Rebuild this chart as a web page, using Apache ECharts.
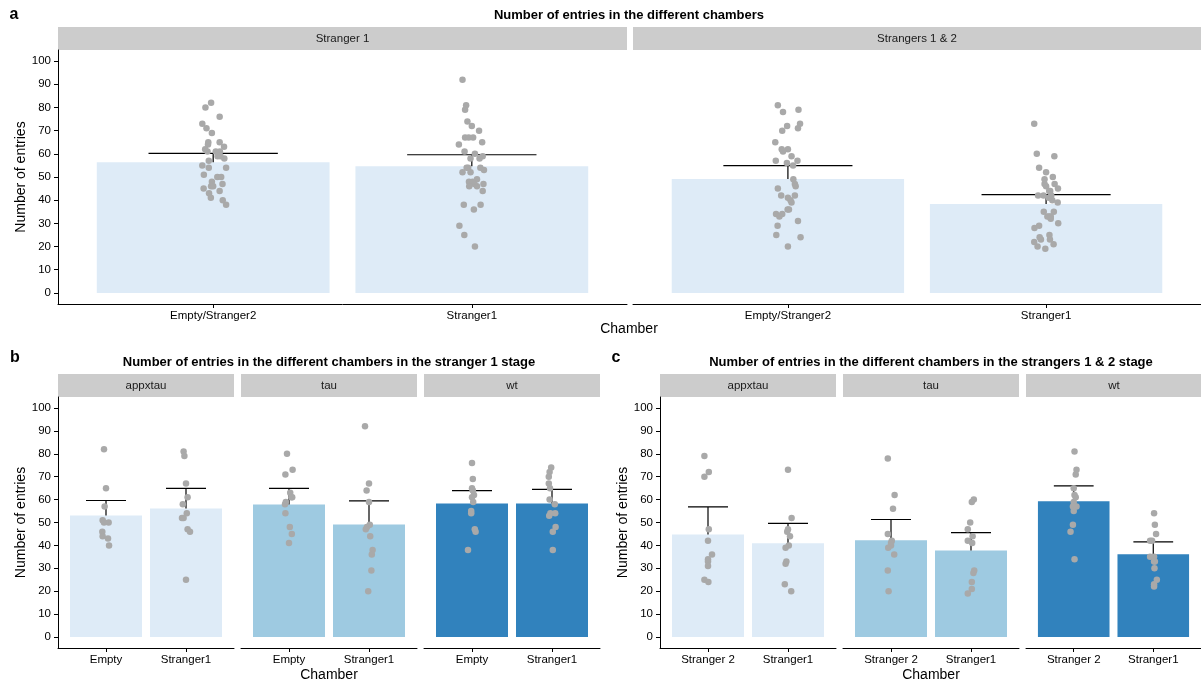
<!DOCTYPE html>
<html><head><meta charset="utf-8">
<script src="https://cdn.jsdelivr.net/npm/echarts@6/dist/echarts.min.js"></script>
<style>html,body{margin:0;padding:0;background:#fff}#c{width:1201px;height:686px}</style>
</head><body><div id="c"></div>
<script>
// ---------- labels ----------
const yTicks = [0, 10, 20, 30, 40, 50, 60, 70, 80, 90, 100];
const stagesA = ['Stranger 1', 'Strangers 1 & 2'];
const chambersA = ['Empty/Stranger2', 'Stranger1'];
const genotypes = ['appxtau', 'tau', 'wt'];
const chambersB = ['Empty', 'Stranger1'];
const chambersC = ['Stranger 2', 'Stranger1'];
const titleA = 'Number of entries in the different chambers';
const titleB = 'Number of entries in the different chambers in the stranger 1 stage';
const titleC = 'Number of entries in the different chambers in the strangers 1 & 2 stage';

// ---------- bar heights (means) and upper error bar ends ----------
const aMean  = [[56.4, 54.6], [49.1, 38.4]];
const aUpper = [[60.2, 59.6], [54.9, 42.4]];
const bMean  = [[53.1, 56.1], [57.9, 49.1], [58.3, 58.3]];
const bUpper = [[59.6, 64.9], [64.9, 59.4], [63.9, 64.5]];
const cMean  = [[44.8, 40.9], [42.2, 37.8], [59.3, 36.1]];
const cUpper = [[56.8, 49.6], [51.3, 45.6], [66.0, 41.5]];

// ---------- individual animals (stranger 1 stage) ----------
const b_appxtau_empty = [82, 65, 57, 51, 50, 50, 46, 44, 43, 40];
const b_appxtau_s1    = [81, 79, 67, 61, 58, 54, 52, 52, 47, 46, 25];
const b_tau_empty     = [80, 73, 71, 63, 61, 61, 59, 58, 54, 48, 45, 41];
const b_tau_s1        = [92, 67, 64, 59, 49, 48, 47, 44, 38, 36, 29, 20];
const b_wt_empty      = [76, 69, 65, 64, 62, 61, 59, 55, 54, 47, 46, 38];
const b_wt_s1         = [74, 72, 70, 67, 65, 60, 58, 54, 54, 53, 48, 46, 38];
// ---------- individual animals (strangers 1 & 2 stage) ----------
const c_appxtau_s2 = [79, 72, 70, 47, 42, 36, 34, 33, 31, 25, 24];
const c_appxtau_s1 = [73, 52, 47, 46, 44, 40, 39, 33, 32, 23, 20];
const c_tau_s2     = [78, 62, 56, 45, 42, 41, 40, 39, 36, 29, 20];
const c_tau_s1     = [60, 59, 50, 47, 44, 42, 41, 29, 28, 24, 21, 19];
const c_wt_s2      = [81, 73, 71, 65, 62, 61, 59, 57, 57, 55, 49, 46, 34];
const c_wt_s1      = [54, 49, 45, 42, 42, 35, 35, 33, 33, 30, 25, 23, 22];

// ---------- horizontal jitter (category units) ----------
const b_appxtau_empty_jit = [-0.025, 0, -0.017, -0.042, -0.025, 0.033, -0.046, -0.042, 0.025, 0.038];
const b_appxtau_s1_jit    = [-0.03, -0.02, 0, 0.02, -0.04, 0.01, -0.05, -0.03, 0.02, 0.05, 0];
const b_tau_empty_jit     = [-0.025, 0.045, -0.045, 0.015, 0.03, 0.04, -0.04, -0.05, -0.045, 0.01, 0.035, 0];
const b_tau_s1_jit        = [-0.05, 0, -0.03, 0, 0.01, -0.025, -0.04, 0.015, 0.045, 0.035, 0.03, -0.01];
const b_wt_empty_jit      = [0, 0.01, 0, 0.01, 0.025, 0, 0.015, -0.01, -0.01, 0.035, 0.045, -0.05];
const b_wt_s1_jit         = [-0.01, -0.03, -0.04, -0.04, -0.025, -0.03, 0.035, -0.02, 0.04, -0.035, 0.045, 0.01, 0.01];
const c_appxtau_s2_jit = [-0.045, 0.01, -0.045, 0.01, 0, 0.05, 0, 0, 0, -0.045, 0.005];
const c_appxtau_s1_jit = [0, 0.045, 0, -0.01, 0.025, 0.01, -0.03, -0.02, -0.03, -0.04, 0.04];
const c_tau_s2_jit     = [-0.04, 0.045, 0.025, -0.04, 0.01, 0, 0, -0.035, 0.04, -0.04, -0.03];
const c_tau_s1_jit     = [0.035, 0.01, -0.01, -0.04, 0.02, -0.04, 0.015, 0.04, 0.03, 0.01, 0.01, -0.04];
const c_wt_s2_jit      = [0.01, 0.035, 0.025, 0, 0.01, 0.025, 0, 0.035, -0.01, 0, -0.01, -0.04, 0.01];
const c_wt_s1_jit      = [0.01, 0.02, 0.035, -0.04, -0.015, -0.04, 0.01, 0.02, 0.01, 0.015, 0.045, 0.01, 0.01];
// panel a jitter (same animal order: appxtau, tau, wt)
const a_s1_empty_jit = [-0.008, -0.019, -0.017, -0.036, 0.016, 0.031, -0.008, 0.025, -0.016, 0.037,
  -0.03, -0.042, -0.026, 0.042, -0.022, 0.026, 0.017, 0.043, -0.017, -0.005, -0.037, -0.009,
  0.025, -0.005, 0.025, -0.02, -0.031, 0.01, 0.028, -0.042, 0.05, 0.036, 0.0, 0.05];
const a_s1_s1_jit = [-0.022, -0.026, -0.026, -0.028, -0.005, -0.014, -0.036, -0.005, 0.045, 0.02, -0.029,
  -0.036, -0.012, -0.05, 0.042, 0.02, -0.011, 0.01, 0.042, -0.031, 0.008, -0.048, 0.012,
  -0.017, 0, 0.028, 0.005, 0.04, 0.012, 0.03, 0.033, -0.02, 0.047, 0.003, -0.01, 0.034];
const a_s12_s2_jit = [0.041, -0.003, -0.022, 0.027, -0.026, 0.004, -0.046, -0.033, 0.039, -0.045, 0.049,
  -0.019, -0.024, -0.004, -0.039, 0.027, 0, 0.01, 0.014, -0.001, -0.04, 0,
  -0.039, 0.047, 0.039, -0.049, 0, -0.019, 0.014, -0.047, 0.037, 0.02, 0.021, 0.03, -0.022];
const a_s12_s1_jit = [-0.046, 0, 0.033, 0, 0.012, 0.024, 0.045, 0.012, 0.018, -0.02, -0.033,
  -0.036, 0.032, 0.026, -0.006, 0.016, -0.031, 0.01, -0.027, -0.045, -0.025, 0.029, -0.003,
  -0.027, -0.006, 0.046, -0.01, 0.02, -0.009, 0.03, 0.018, 0.005, 0.047, 0.013, 0.015, -0.046];

// ---------- styling ----------
const FONT = '"Liberation Sans", Arial, Helvetica, sans-serif';
const genoColors = ['#DEEBF7', '#9ECAE1', '#3182BD'];
const colorA = '#DEEBF7';
const pointColor = '#A9A9A9';
const stripFill = '#CCCCCC';
const Y_MIN = -4.8, Y_MAX = 104.8;

const grids = [], xAxes = [], yAxes = [], series = [], graphics = [];

function pts(vals, jit, xc) { return vals.map((v, i) => [xc + jit[i], v]); }

function addFacet(o) {
  const i = grids.length;
  grids.push({ left: o.left, top: o.top, width: o.width, height: o.height });
  xAxes.push({
    type: 'value', gridIndex: i, min: 0.4, max: 2.6,
    axisLine: { show: true, onZero: false, lineStyle: { color: '#000', width: 1 } },
    axisTick: { show: true, customValues: [1, 2], length: 4, lineStyle: { color: '#000', width: 1 } },
    axisLabel: { customValues: [1, 2], formatter: v => o.cats[Math.round(v) - 1],
      color: '#000', fontSize: 11.5, fontFamily: FONT, margin: 6 },
    splitLine: { show: false }
  });
  yAxes.push({
    type: 'value', gridIndex: i, min: Y_MIN, max: Y_MAX,
    axisLine: { show: o.first, onZero: false, lineStyle: { color: '#000', width: 1 } },
    axisTick: { show: o.first, customValues: yTicks, length: 4, lineStyle: { color: '#000', width: 1 } },
    axisLabel: { show: o.first, customValues: yTicks, color: '#000', fontSize: 11.5, fontFamily: FONT, margin: 7 },
    splitLine: { show: false },
    name: o.first ? 'Number of entries' : '', nameLocation: 'middle', nameGap: 30, nameRotate: 90,
    nameTextStyle: { fontSize: 14, color: '#000', fontFamily: FONT }
  });
  // bars
  series.push({
    type: 'custom', xAxisIndex: i, yAxisIndex: i, z: 1, silent: true,
    data: [[1, o.mean[0]], [2, o.mean[1]]],
    encode: { x: 0, y: 1 },
    renderItem: (p, api) => {
      const x = api.value(0), y = api.value(1);
      const a = api.coord([x - 0.45, y]), b = api.coord([x + 0.45, 0]);
      return { type: 'rect', shape: { x: a[0], y: a[1], width: b[0] - a[0], height: b[1] - a[1] },
        style: { fill: o.color } };
    }
  });
  // upper error bars
  series.push({
    type: 'custom', xAxisIndex: i, yAxisIndex: i, z: 2, silent: true,
    data: [[1, o.mean[0], o.upper[0]], [2, o.mean[1], o.upper[1]]],
    encode: { x: 0, y: [1, 2] },
    renderItem: (p, api) => {
      const x = api.value(0), m = api.value(1), u = api.value(2);
      const pm = api.coord([x, m]), pu = api.coord([x, u]);
      const pl = api.coord([x - 0.25, u]), pr = api.coord([x + 0.25, u]);
      return { type: 'group', children: [
        { type: 'line', shape: { x1: pm[0], y1: pm[1], x2: pu[0], y2: pu[1] }, style: { stroke: '#000', lineWidth: 1.2 } },
        { type: 'line', shape: { x1: pl[0], y1: pl[1], x2: pr[0], y2: pr[1] }, style: { stroke: '#000', lineWidth: 1.2 } }
      ] };
    }
  });
  // points
  series.push({
    type: 'scatter', xAxisIndex: i, yAxisIndex: i, z: 3, silent: true,
    symbol: 'circle', symbolSize: 6.5, itemStyle: { color: pointColor, opacity: 1 },
    data: pts(o.v1, o.j1, 1).concat(pts(o.v2, o.j2, 2))
  });
  // strip
  graphics.push({ type: 'rect', shape: { x: o.left, y: o.stripTop, width: o.width, height: 23 },
    style: { fill: stripFill }, silent: true });
  graphics.push({ type: 'text', x: o.left + o.width / 2, y: o.stripTop + 11.5, silent: true,
    style: { text: o.strip, fill: '#1A1A1A', fontSize: 11.5, fontFamily: FONT, align: 'center', verticalAlign: 'middle' } });
}

function txt(s, x, y, size, bold) {
  graphics.push({ type: 'text', x: x, y: y, silent: true,
    style: { text: s, fill: '#000', fontSize: size, fontWeight: bold ? 'bold' : 'normal', fontFamily: FONT,
      align: 'center', verticalAlign: 'middle' } });
}

// ----- panel a -----
addFacet({ left: 58, top: 50, width: 569, height: 254, stripTop: 27, first: true, strip: stagesA[0], cats: chambersA,
  color: colorA, mean: aMean[0], upper: aUpper[0],
  v1: b_appxtau_empty.concat(b_tau_empty, b_wt_empty), j1: a_s1_empty_jit,
  v2: b_appxtau_s1.concat(b_tau_s1, b_wt_s1), j2: a_s1_s1_jit });
addFacet({ left: 633, top: 50, width: 568, height: 254, stripTop: 27, first: false, strip: stagesA[1], cats: chambersA,
  color: colorA, mean: aMean[1], upper: aUpper[1],
  v1: c_appxtau_s2.concat(c_tau_s2, c_wt_s2), j1: a_s12_s2_jit,
  v2: c_appxtau_s1.concat(c_tau_s1, c_wt_s1), j2: a_s12_s1_jit });

// ----- panel b -----
const bV = [[b_appxtau_empty, b_appxtau_s1], [b_tau_empty, b_tau_s1], [b_wt_empty, b_wt_s1]];
const bJ = [[b_appxtau_empty_jit, b_appxtau_s1_jit], [b_tau_empty_jit, b_tau_s1_jit], [b_wt_empty_jit, b_wt_s1_jit]];
const bLeft = [58, 241, 424];
for (let g = 0; g < 3; g++) {
  addFacet({ left: bLeft[g], top: 397, width: 176, height: 251, stripTop: 374, first: g === 0, strip: genotypes[g],
    cats: chambersB, color: genoColors[g], mean: bMean[g], upper: bUpper[g],
    v1: bV[g][0], j1: bJ[g][0], v2: bV[g][1], j2: bJ[g][1] });
}
// ----- panel c -----
const cV = [[c_appxtau_s2, c_appxtau_s1], [c_tau_s2, c_tau_s1], [c_wt_s2, c_wt_s1]];
const cJ = [[c_appxtau_s2_jit, c_appxtau_s1_jit], [c_tau_s2_jit, c_tau_s1_jit], [c_wt_s2_jit, c_wt_s1_jit]];
const cLeft = [660, 843, 1026];
for (let g = 0; g < 3; g++) {
  addFacet({ left: cLeft[g], top: 397, width: 176, height: 251, stripTop: 374, first: g === 0, strip: genotypes[g],
    cats: chambersC, color: genoColors[g], mean: cMean[g], upper: cUpper[g],
    v1: cV[g][0], j1: cJ[g][0], v2: cV[g][1], j2: cJ[g][1] });
}

// titles and labels
txt('a', 14, 15, 16, true);
txt(titleA, 629, 15, 13, true);
txt('Chamber', 629, 329, 14, false);
txt('b', 15, 358, 16, true);
txt(titleB, 329, 362, 13, true);
txt('Chamber', 329, 675, 14, false);
txt('c', 616, 358, 16, true);
txt(titleC, 931, 362, 13, true);
txt('Chamber', 931, 675, 14, false);

const chart = echarts.init(document.getElementById('c'), null, { renderer: 'canvas' });
chart.setOption({
  animation: false,
  backgroundColor: '#fff',
  textStyle: { fontFamily: FONT },
  grid: grids, xAxis: xAxes, yAxis: yAxes, series: series,
  graphic: { elements: graphics }
});
</script></body></html>
